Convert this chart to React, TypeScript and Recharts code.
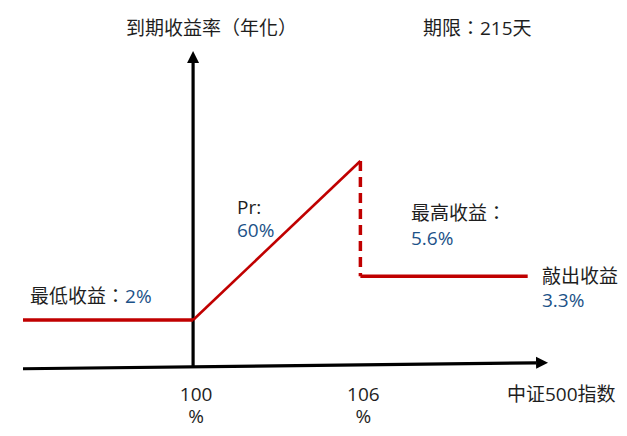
import { Customized, Line, LineChart, ReferenceLine, XAxis, YAxis } from 'recharts';

// payoff curve, drawn in the picture's own (not-to-scale) units
const floorLeg = [
  { x: 93.9, y: 2 },
  { x: 100, y: 2 },
];
const riseLeg = [
  { x: 100, y: 2 },
  { x: 106, y: 6.73 },
];
const knockDrop = [
  { x: 106, y: 6.73 },
  { x: 106, y: 3.3 },
];
const knockLeg = [
  { x: 106, y: 3.3 },
  { x: 112, y: 3.3 },
];
const xTicks = [100, 106];

const RED = '#C00000';
const INK = '#1e1e1e';
const BLUE = '#1C5288';
const FONT = '"Open Sans", "Noto Sans CJK TC", sans-serif';

const Arrow = (props: any) => {
  const { x1, y1, x2, y2 } = props;
  const ang = Math.atan2(y2 - y1, x2 - x1);
  const len = 12;
  const half = 6;
  const bx = x2 - len * Math.cos(ang);
  const by = y2 - len * Math.sin(ang);
  const px = -Math.sin(ang) * half;
  const py = Math.cos(ang) * half;
  return (
    <g>
      <line x1={x1} y1={y1} x2={bx} y2={by} stroke="#000" strokeWidth={3.2} />
      <polygon points={`${x2},${y2} ${bx + px},${by + py} ${bx - px},${by - py}`} fill="#000" />
    </g>
  );
};

const PctTick = ({ x, y, payload }: any) => (
  <g fontFamily={FONT} fontSize={19} fill={INK}>
    <text x={x + 3} y={y} dy={13.75} textAnchor="middle">
      {payload.value}
    </text>
    <text x={x + 3} y={y} dy={35.75} textAnchor="middle">
      %
    </text>
  </g>
);

const Notes = () => (
  <g fontFamily={FONT} fontSize={19} fill={INK}>
    <text x={126} y={35}>到期收益率（年化）</text>
    <text x={423} y={35}>期限：215天</text>
    <text x={237} y={214}>Pr:</text>
    <text x={237} y={237} fill={BLUE}>60%</text>
    <text x={411} y={220}>最高收益：</text>
    <text x={411} y={245} fill={BLUE}>5.6%</text>
    <text x={542} y={282.5}>敲出收益</text>
    <text x={542} y={306.5} fill={BLUE}>3.3%</text>
    <text x={30} y={302.5}>
      最低收益：<tspan fill={BLUE}>2%</tspan>
    </text>
    <text x={507} y={401}>中证500指数</text>
  </g>
);

export default function App() {
  return (
    <div style={{ position: 'absolute', left: 0, top: 0, background: '#fff' }}>
      <LineChart width={627} height={436} margin={{ top: 51, right: 77, bottom: 20, left: 23 }}>
        <XAxis
          type="number"
          dataKey="x"
          domain={[93.9, 112.8]}
          ticks={xTicks}
          height={28.75}
          axisLine={false}
          tickLine={false}
          tickSize={0}
          tickMargin={0}
          tick={<PctTick />}
          allowDataOverflow
        />
        <YAxis type="number" dataKey="y" domain={[0, 10]} hide allowDataOverflow />
        <ReferenceLine
          segment={[
            { x: 93.9, y: 0.55 },
            { x: 112.73, y: 0.73 },
          ]}
          ifOverflow="visible"
          shape={<Arrow />}
        />
        <ReferenceLine
          segment={[
            { x: 100, y: 0.6 },
            { x: 100, y: 10 },
          ]}
          ifOverflow="visible"
          shape={<Arrow />}
        />
        <Line data={floorLeg} dataKey="y" stroke={RED} strokeWidth={3.5} dot={false} isAnimationActive={false} />
        <Line data={riseLeg} dataKey="y" stroke={RED} strokeWidth={2.6} dot={false} isAnimationActive={false} />
        <Line
          data={knockDrop}
          dataKey="y"
          stroke={RED}
          strokeWidth={3.5}
          strokeDasharray="10 6"
          dot={false}
          isAnimationActive={false}
        />
        <Line data={knockLeg} dataKey="y" stroke={RED} strokeWidth={3.5} dot={false} isAnimationActive={false} />
        <Customized component={<Notes />} />
      </LineChart>
    </div>
  );
}
